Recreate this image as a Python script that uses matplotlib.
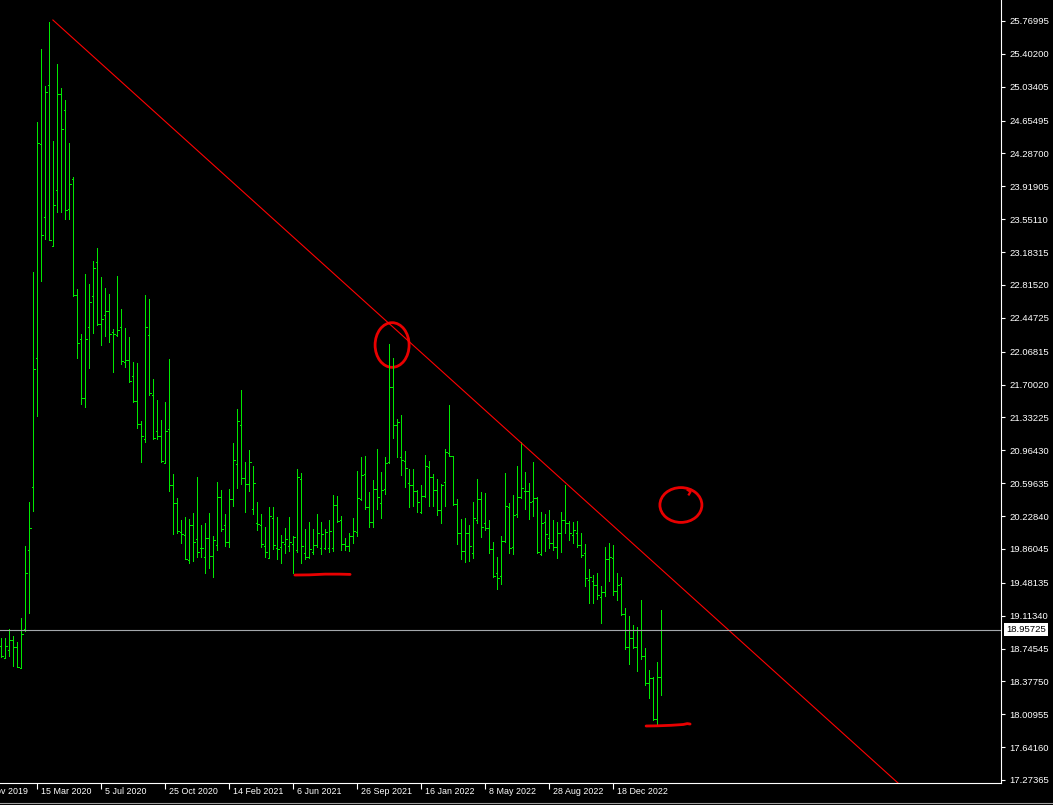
"""
Weekly OHLC bar chart in the dark trading-terminal style,
with a falling trendline, current price line and hand-drawn marks.
"""

import numpy as np
import pandas as pd
import matplotlib
matplotlib.use("Agg")
import matplotlib.pyplot as plt
import matplotlib.transforms as mtransforms
from matplotlib.collections import LineCollection
from matplotlib.patches import Ellipse
from matplotlib.lines import Line2D

plt.rcParams["font.family"] = ["Liberation Sans", "DejaVu Sans"]

# ─────────────────────────────────────────────
# Data (weekly bars, first bar = 12 Jan 2020)
# ─────────────────────────────────────────────

first_bar = "2020-01-12"

opens = [
    18.776, 18.640, 18.724, 18.842, 18.767, 18.522, 18.969, 19.851, 20.558, 22.001,
    24.392, 23.576, 25.052, 23.251, 23.878, 24.948, 24.769, 23.670, 24.000, 22.708,
    22.213, 21.553, 22.341, 22.694, 23.067, 22.374, 22.482, 22.529, 22.284, 22.256,
    22.341, 21.954, 21.973, 21.794, 21.515, 21.256, 21.086, 22.251, 21.586, 21.176,
    21.124, 20.818, 21.199, 20.572, 20.371, 20.046, 20.016, 19.736, 20.128, 19.968,
    19.867, 19.774, 19.979, 19.785, 19.904, 20.438, 20.128, 19.934, 20.419, 20.811,
    21.247, 20.650, 20.583, 20.303, 20.147, 20.128, 19.893, 19.755, 20.203, 19.867,
    19.878, 19.915, 19.893, 19.912, 19.848, 20.639, 19.811, 19.766, 19.830, 19.904,
    19.867, 19.867, 19.867, 19.867, 20.352, 20.184, 19.912, 19.893, 20.005, 20.054,
    20.416, 20.695, 20.326, 20.158, 20.527, 20.371, 20.527, 20.837, 21.677, 21.248,
    20.893, 20.845, 20.595, 20.576, 20.509, 20.278, 20.453, 20.781, 20.669, 20.520,
    20.296, 20.613, 20.930, 20.901, 20.363, 20.035, 19.841, 20.035, 19.811, 20.184,
    20.415, 20.154, 20.091, 19.856, 19.587, 19.557, 19.949, 20.326, 19.878, 20.248,
    20.445, 20.513, 20.509, 20.397, 20.427, 19.804, 20.165, 19.979, 19.930, 19.886,
    20.035, 20.184, 20.147, 20.016, 20.035, 19.904, 19.811, 19.512, 19.501, 19.457,
    19.326, 19.382, 19.744, 19.763, 19.393, 19.464, 19.128, 18.759, 18.860, 18.766,
    18.953, 18.666, 18.356, 18.412, 17.953, 18.430,
]
highs = [
    18.866, 18.866, 18.969, 18.889, 18.823, 19.083, 19.889, 20.384, 22.963, 24.642,
    25.453, 25.042, 25.759, 24.429, 25.288, 25.019, 24.887, 24.406, 24.024, 22.765,
    22.270, 22.939, 22.826, 23.081, 23.227, 22.902, 22.779, 22.713, 22.317, 22.916,
    22.543, 22.331, 22.232, 21.949, 21.940, 21.289, 22.704, 22.657, 21.761, 21.525,
    21.303, 21.505, 21.986, 20.699, 20.430, 20.184, 20.221, 20.191, 20.259, 20.662,
    20.128, 20.147, 20.259, 20.005, 20.606, 20.520, 20.251, 20.531, 21.050, 21.426,
    21.639, 20.837, 20.967, 20.788, 20.385, 20.251, 20.102, 20.333, 20.333, 20.221,
    20.016, 20.091, 20.221, 20.005, 20.755, 20.706, 20.083, 20.158, 20.080, 20.251,
    20.158, 20.083, 20.184, 20.464, 20.453, 20.229, 19.979, 20.042, 20.203, 20.733,
    20.889, 20.901, 20.494, 20.632, 20.979, 20.721, 20.889, 22.154, 21.994, 21.311,
    21.360, 20.960, 20.751, 20.755, 20.520, 20.576, 20.912, 20.845, 20.699, 20.643,
    20.583, 20.975, 21.471, 20.905, 20.419, 20.195, 20.203, 20.128, 20.389, 20.643,
    20.501, 20.483, 20.184, 19.942, 19.774, 20.005, 20.707, 20.371, 20.464, 20.789,
    21.054, 20.725, 20.595, 20.837, 20.445, 20.277, 20.251, 20.296, 20.184, 20.165,
    20.277, 20.576, 20.177, 20.165, 20.177, 20.035, 19.916, 19.632, 19.568, 19.587,
    19.445, 19.878, 19.923, 19.904, 19.587, 19.550, 19.195, 19.110, 19.009, 18.990,
    19.289, 18.748, 18.505, 18.430, 18.591, 19.177,
]
lows = [
    18.654, 18.640, 18.663, 18.545, 18.536, 18.522, 18.936, 19.144, 20.290, 21.350,
    22.859, 23.331, 23.321, 23.251, 23.637, 23.637, 23.548, 23.548, 22.694, 22.001,
    21.483, 21.454, 21.888, 22.279, 22.364, 22.143, 22.246, 22.176, 21.845, 22.246,
    21.926, 21.902, 21.728, 21.501, 21.209, 20.832, 21.054, 21.586, 21.091, 21.091,
    20.832, 20.818, 20.512, 20.027, 20.035, 19.930, 19.744, 19.699, 19.729, 19.774,
    19.774, 19.594, 19.643, 19.542, 19.848, 20.065, 19.893, 19.886, 20.341, 20.538,
    20.583, 20.277, 20.512, 20.251, 20.072, 19.886, 19.774, 19.755, 19.856, 19.744,
    19.706, 19.811, 19.837, 19.594, 19.830, 19.699, 19.744, 19.755, 19.803, 19.886,
    19.803, 19.859, 19.830, 19.841, 20.166, 19.848, 19.848, 19.841, 19.930, 20.005,
    20.408, 20.307, 20.110, 20.110, 20.307, 20.203, 20.471, 20.818, 21.102, 20.886,
    20.688, 20.550, 20.326, 20.341, 20.278, 20.266, 20.445, 20.341, 20.341, 20.240,
    20.154, 20.341, 20.901, 20.352, 19.912, 19.744, 19.718, 19.729, 19.755, 20.154,
    19.990, 20.072, 19.811, 19.550, 19.408, 19.464, 19.942, 19.818, 19.804, 20.214,
    20.434, 20.307, 20.195, 20.229, 19.811, 19.792, 19.841, 19.867, 19.848, 19.755,
    19.830, 20.042, 19.960, 19.930, 19.886, 19.774, 19.449, 19.259, 19.251, 19.296,
    19.035, 19.337, 19.505, 19.345, 19.289, 19.117, 18.736, 18.569, 18.748, 18.498,
    18.628, 18.337, 18.188, 17.945, 17.897, 18.225,
]
closes = [
    18.663, 18.776, 18.842, 18.757, 18.536, 18.903, 19.596, 20.096, 21.879, 24.401,
    23.378, 24.972, 23.321, 23.708, 24.948, 24.566, 23.652, 23.944, 22.708, 22.161,
    21.553, 22.209, 22.624, 23.010, 22.374, 22.435, 22.529, 22.270, 22.270, 22.308,
    21.963, 21.973, 21.737, 21.515, 21.256, 21.129, 22.341, 21.605, 21.100, 21.124,
    20.841, 21.181, 20.572, 20.371, 20.061, 20.024, 19.747, 20.128, 19.941, 19.822,
    19.867, 19.979, 19.785, 19.960, 20.438, 20.080, 19.934, 20.423, 20.856, 21.288,
    20.650, 20.583, 20.829, 20.594, 20.139, 19.915, 19.830, 20.229, 19.904, 19.856,
    19.934, 19.971, 19.934, 19.997, 20.662, 19.897, 19.766, 19.856, 19.904, 20.042,
    20.027, 20.046, 20.065, 20.352, 20.177, 19.912, 19.893, 20.005, 20.061, 20.427,
    20.688, 20.326, 20.158, 20.527, 20.445, 20.520, 20.818, 21.677, 21.248, 21.285,
    20.856, 20.763, 20.576, 20.513, 20.389, 20.457, 20.789, 20.669, 20.520, 20.296,
    20.576, 20.949, 20.901, 20.360, 20.035, 19.841, 20.035, 19.893, 20.203, 20.415,
    20.102, 20.091, 19.856, 19.561, 19.539, 19.953, 20.341, 19.867, 20.240, 20.445,
    20.539, 20.513, 20.389, 20.427, 19.830, 20.147, 20.024, 19.930, 19.886, 20.035,
    20.184, 20.147, 20.042, 20.072, 19.904, 19.792, 19.531, 19.550, 19.457, 19.345,
    19.382, 19.744, 19.774, 19.393, 19.457, 19.128, 18.759, 18.860, 18.759, 18.953,
    18.666, 18.356, 18.412, 17.953, 18.423, 18.95725,
]

bid_price = 18.95725

price_ticks = [
    25.76995, 25.40200, 25.03405, 24.65495, 24.28700, 23.91905, 23.55110,
    23.18315, 22.81520, 22.44725, 22.06815, 21.70020, 21.33225, 20.96430,
    20.59635, 20.22840, 19.86045, 19.48135, 19.11340, 18.74545, 18.37750,
    18.00955, 17.64160, 17.27365,
]

# date ticks every 16 bars (bar -7 = 24 Nov 2019, partly off the left edge)
date_tick_bars = list(range(-7, 160, 16))

# trendline anchors (bar index, price)
trend_x = [12.9, 181.7]
trend_y = [25.781, 18.957]

# hand-drawn marks
circle_a = dict(center=(97.7, 22.143), w=8.5, h=0.50)
circle_b = dict(center=(169.9, 20.352), w=10.5, h=0.39)
underline_a_x = [73.4, 77.0, 81.0, 84.5, 87.2]
underline_a_y = [19.568, 19.570, 19.578, 19.578, 19.575]
underline_b_x = [161.2, 164.0, 167.5, 170.5, 171.5, 172.2]
underline_b_y = [17.878, 17.880, 17.886, 17.895, 17.905, 17.900]

# ─────────────────────────────────────────────
# Figure
# ─────────────────────────────────────────────

W, H = 1053, 805
fig = plt.figure(figsize=(W / 100, H / 100), dpi=100, facecolor="black")
ax = fig.add_axes([0, 22 / H, 1001 / W, 783 / H])
ax.set_facecolor("black")

n = len(opens)
xs = np.arange(n)
tick_len = 0.35
segs = []
for i in range(n):
    segs.append([(xs[i], lows[i]), (xs[i], highs[i])])
    segs.append([(xs[i] - tick_len, opens[i]), (xs[i], opens[i])])
    segs.append([(xs[i], closes[i]), (xs[i] + tick_len, closes[i])])
ax.add_collection(LineCollection(segs, colors="#00e800", linewidths=0.55, antialiased=False))

# trendline (ray to the right)
slope = (trend_y[1] - trend_y[0]) / (trend_x[1] - trend_x[0])
x_end = 240
ax.plot([trend_x[0], x_end], [trend_y[0], trend_y[0] + slope * (x_end - trend_x[0])],
        color="#ff0000", linewidth=0.8)

# current price line
ax.axhline(bid_price, color="#a4a8ac", linewidth=0.8)

# hand-drawn marks
mark_color = "#e80000"
for c in (circle_a, circle_b):
    ax.add_patch(Ellipse(c["center"], c["w"], c["h"], fill=False,
                         edgecolor=mark_color, linewidth=2.0))
ax.plot([171.6, 172.3, 171.9], [20.52, 20.50, 20.47], color=mark_color, linewidth=1.6)
ax.plot(underline_a_x, underline_a_y, color=mark_color, linewidth=2.0, solid_capstyle="round")
ax.plot(underline_b_x, underline_b_y, color=mark_color, linewidth=2.0, solid_capstyle="round")

ax.set_xlim(-0.325, 249.925)
ax.set_ylim(17.240, 26.005)

# right price axis
ax.yaxis.tick_right()
ax.set_yticks(price_ticks)
ax.set_yticklabels([f"{v:.5f}" for v in price_ticks])
ax.tick_params(axis="y", colors="white", length=3, width=0.8, pad=3, labelsize=6.8)

# bottom date axis
ax.set_xticks([b for b in date_tick_bars if b >= 0])
ax.set_xticklabels([])
ax.tick_params(axis="x", colors="white", length=4, width=0.8)
dates = pd.Timestamp(first_bar) + pd.to_timedelta(np.array(date_tick_bars) * 7, unit="D")
lbl_trans = mtransforms.blended_transform_factory(ax.transData, ax.transAxes) + \
    mtransforms.ScaledTranslation(4 / 100, -4 / 100, fig.dpi_scale_trans)
for b, d in zip(date_tick_bars, dates):
    ax.text(b, 0, f"{d.day} {d:%b %Y}", transform=lbl_trans, ha="left", va="top",
            color="white", fontsize=6.4, clip_on=False)

for side in ("left", "top"):
    ax.spines[side].set_visible(False)
for side in ("right", "bottom"):
    ax.spines[side].set_color("white")
    ax.spines[side].set_linewidth(0.8)

# bid price label box
box_trans = mtransforms.blended_transform_factory(ax.transAxes, ax.transData) + \
    mtransforms.ScaledTranslation(5 / 100, 0, fig.dpi_scale_trans)
ax.text(1.0, bid_price, f"{bid_price:.5f}", transform=box_trans, ha="left", va="center",
        color="black", fontsize=6.8, clip_on=False,
        bbox=dict(boxstyle="square,pad=0.2", facecolor="white", edgecolor="none"))

fig.add_artist(Line2D([0, 1], [2 / H, 2 / H], color="#a0a0a0", linewidth=0.8,
                      transform=fig.transFigure))

fig.savefig("out.png", dpi=100, facecolor="black")
